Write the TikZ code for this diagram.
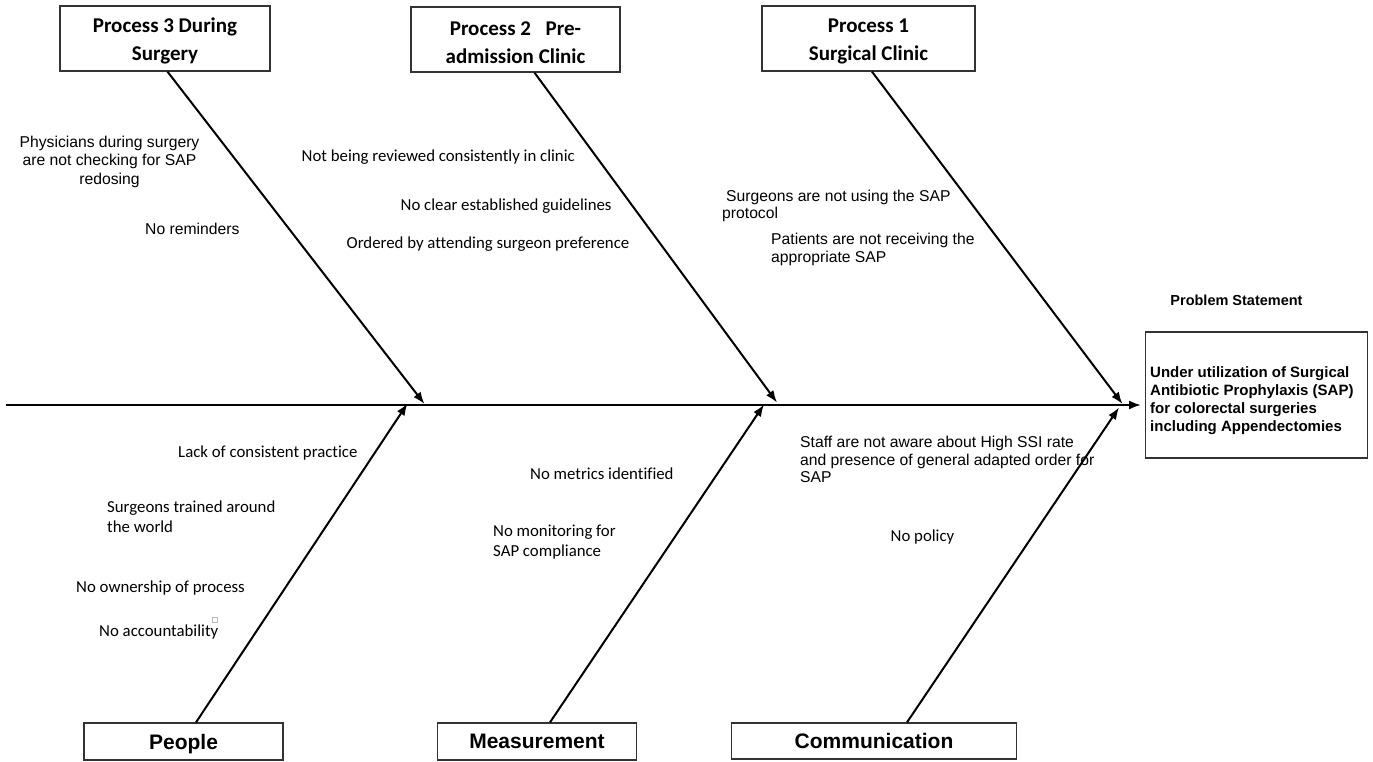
\documentclass[tikz,border=0pt]{standalone}
\usepackage{fontspec}
\setmainfont{Liberation Sans}
\newfontfamily\calfont[Ligatures=NoCommon]{Carlito}
\usetikzlibrary{arrows.meta}
\newcommand{\mytab}[2]{\begin{tabular}[t]{@{}#1@{}}#2\end{tabular}}
\tikzset{
  box/.style={draw=black!80, line width=1.3pt, inner sep=0pt, align=center, fill=white},
  ttl/.style={font=\calfont\bfseries\fontsize{21}{28}\selectfont},
  btl/.style={font=\bfseries\fontsize{21}{25}\selectfont},
  ar/.style={font=\fontsize{15.7}{17.5}\selectfont, inner sep=0pt, anchor=base west},
  ca/.style={font=\calfont\fontsize{16.8}{20}\selectfont, inner sep=0pt, anchor=base west},
  bone/.style={line width=2pt, -{Latex[length=12pt,width=9pt]}},
}
\begin{document}
\begin{tikzpicture}[x=1pt,y=-1pt]
\useasboundingbox[fill=white] (0,0) rectangle (1373,761);

% category boxes
\node[box, ttl, minimum width=210pt, minimum height=65pt] (p3) at (165,38.5) {\rule{0pt}{20pt}Process 3 During\\Surgery};
\node[box, ttl, minimum width=209pt, minimum height=65pt] (p2) at (515.5,39.5) {\rule{0pt}{20pt}Process 2\hspace{0.7em}Pre-\\admission Clinic};
\node[box, ttl, minimum width=213pt, minimum height=65pt] (p1) at (868.5,38.5) {\rule{0pt}{20pt}Process 1\\Surgical Clinic};
\node[box, btl, minimum width=199pt, minimum height=37pt] (pe) at (183.5,741.5) {\rule{0pt}{19.5pt}People};
\node[box, btl, minimum width=199pt, minimum height=37pt] (me) at (537,741.5) {Measurement};
\node[box, btl, minimum width=285pt, minimum height=36pt] (co) at (874,741) {Communication};

% problem
\node[font=\bfseries\fontsize{14.5}{17}\selectfont, anchor=base, inner sep=0pt] (ps) at (1236.5,305) {Problem Statement};
\node[box, minimum width=222pt, minimum height=126pt] (prob) at (1256.5,395) {};
\node[font=\bfseries\fontsize{15}{18}\selectfont, anchor=base west, inner sep=0pt] (pt) at (1150,377)
  {\mytab{l}{Under utilization of Surgical\\Antibiotic Prophylaxis (SAP)\\for colorectal surgeries\\including Appendectomies}};

% arrow tips
\coordinate (s0) at (6,405);
\coordinate (s1) at (1141,405);
\coordinate (t3) at (424.5,404);
\coordinate (t2) at (777,402.5);
\coordinate (t1) at (1122.5,404);
\coordinate (b1) at (407.5,403.5);
\coordinate (b2) at (764,404.5);
\coordinate (b3) at (1119,407.5);

% spine and bones
\draw[bone] (s0) -- (s1);
\draw[bone] ([xshift=2.5pt]p3.south) -- (t3);
\draw[bone] ([xshift=19pt]p2.south) -- (t2);
\draw[bone] ([xshift=3.5pt]p1.south) -- (t1);
\draw[bone] ([xshift=12.5pt]pe.north) -- (b1);
\draw[bone] ([xshift=13pt]me.north) -- (b2);
\draw[bone] ([xshift=33pt]co.north) -- (b3);

% causes, upper
\node[ar, anchor=base] (c1) at (109.5,147) {\fontsize{15.7}{18.5}\selectfont\mytab{c}{Physicians during surgery\\are not checking for SAP\\redosing}};
\node[ar] (c2) at (145,234) {No reminders};
\node[ca] (c3) at (301.5,161.5) {Not being reviewed consistently in clinic};
\node[ca] (c4) at (400.5,210) {No clear established guidelines};
\node[ca] (c5) at (346.5,248) {Ordered by attending surgeon preference};
\node[ar] (c6) at (722,201) {\mytab{l}{\hspace*{4pt}Surgeons are not using the SAP\\protocol}};
\node[ar] (c7) at (771,244.5) {\mytab{l}{Patients are not receiving the\\appropriate SAP}};

% causes, lower
\node[ca] (c8) at (178,457.5) {Lack of consistent practice};
\node[ca] (c9) at (107,512) {\mytab{l}{Surgeons trained around\\the world}};
\node[ca] (c10) at (76,592) {No ownership of process};
\node[ca] (c11) at (99,636) {No accountability};
\node[ca] (c12) at (530,479.5) {No metrics identified};
\node[ca] (c13) at (493,536) {\mytab{l}{No monitoring for\\SAP compliance}};
\node[ar] (c14) at (800,447.5) {\mytab{l}{Staff are not aware about High SSI rate\\and presence of general adapted order for\\SAP}};
\node[ca] (c15) at (890.5,541.5) {No policy};

\draw[gray!55, line width=0.6pt] (212.5,617.5) rectangle (217.5,622.5);
\end{tikzpicture}
\end{document}
